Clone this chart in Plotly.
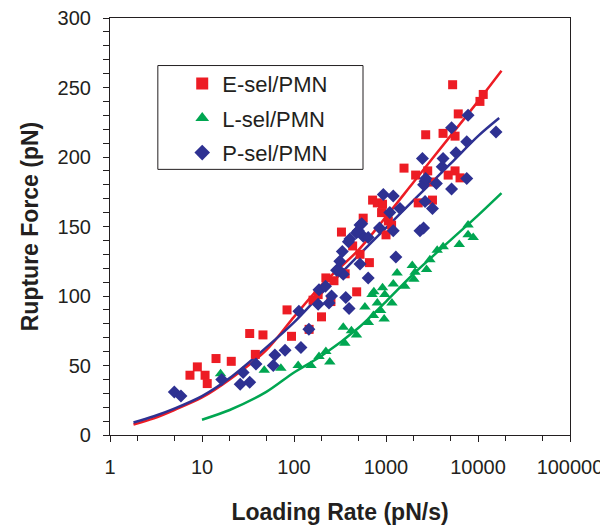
import plotly.graph_objects as go

# scatter data (loading rate pN/s, rupture force pN)
e_rate = [7.4, 8.9, 10.8, 11.4, 14.2, 20.8, 33, 46, 38, 84, 94, 146, 161, 183, 199, 222,
          272, 252, 328, 360, 434, 480, 522, 565, 660, 715, 805, 917, 895, 1000, 1060,
          1150, 1570, 2100, 2240, 2700, 2840, 3200, 3250, 4170, 4740, 5300, 5630, 5630,
          6100, 6380, 10500, 11400]
e_force = [43, 49, 43, 37, 55, 53, 73, 72, 58, 90, 71, 76, 97, 101, 85, 113,
           111, 96, 146, 116, 136, 103, 130, 156, 124, 169, 167, 166, 160, 144, 154,
           151, 192, 187, 167, 216, 190, 169, 182, 217, 187, 252, 215, 190,
           231, 185, 240, 245]

l_rate = [15.9, 47.5, 72, 111, 153, 187, 222, 245, 343, 357, 421, 478, 590, 643, 705,
          738, 730, 805, 875, 917, 955, 970, 1160, 1200, 1320, 1600, 1930, 2010, 2070,
          2760, 3000, 3600, 4180, 6260, 7800, 7800, 8870]
l_force = [44, 46.5, 48, 50, 50, 56.5, 60, 52.5, 77.5, 66, 75, 72, 92, 81, 101,
           103, 86, 95, 89.5, 106, 83.5, 101, 95, 108.6, 116.5, 107, 122, 112, 117,
           119, 126, 133, 135.5, 137, 151, 144, 142]

p_rate = [5.0, 5.9, 16.4, 28, 26, 33, 38.6, 59.5, 62, 80, 119, 113, 145, 187, 220, 183,
          240, 256, 365, 397, 290, 343, 303, 315, 335, 390, 478, 522, 565, 522, 640, 405,
          500, 545, 640, 850, 935, 1100, 1200, 1200, 1280, 1420, 2340, 2560, 2490, 2660,
          2660, 2560, 2700, 3200, 3530, 4080, 4170, 5160, 5160, 5770, 7550, 7550, 7800,
          15700]
p_force = [31, 28, 40, 45, 36.5, 38, 51, 50, 57.5, 61, 63, 89, 76, 104.5, 107, 94,
           95, 100, 99, 91, 118.6, 115.7, 119, 125, 132, 139, 145.5, 151, 143, 123, 113, 141,
           147, 152, 142, 149, 173, 160, 172, 147, 128, 163, 147, 149, 199, 182.5,
           168, 180, 184.5, 163, 181, 193, 199, 221, 177, 203, 211, 184.5, 230,
           218]

e_fit_rate = [1.8, 3, 5, 10, 20, 50, 100, 200, 500, 1000, 2000, 5000, 10000, 18000]
e_fit_force = [7.5, 12, 18, 27, 40, 61, 85, 108, 133, 157, 182, 215, 240, 262]
l_fit_rate = [10, 20, 50, 100, 200, 500, 1000, 2000, 5000, 10000, 18000]
l_fit_force = [11, 18, 31, 45, 57, 77, 96, 116, 140, 158, 174]
p_fit_rate = [1.8, 3, 5, 10, 20, 50, 100, 200, 500, 1000, 2000, 5000, 10000, 17000]
p_fit_force = [9, 13.5, 19, 28, 41, 63, 81, 102, 129, 149, 169, 195, 215, 228]

x_ticks = [1, 10, 100, 1000, 10000, 100000]

RED = "#ED1C24"
GREEN = "#00A651"
BLUE = "#2E3192"
INK = "#231F20"
FONT = "Liberation Sans, Arial, sans-serif"

fig = go.Figure()

for rx, fy, col in [(e_fit_rate, e_fit_force, RED), (l_fit_rate, l_fit_force, GREEN),
                    (p_fit_rate, p_fit_force, BLUE)]:
    fig.add_trace(go.Scatter(x=rx, y=fy, mode="lines", showlegend=False, hoverinfo="skip",
                             line=dict(color=col, width=2.5, shape="spline", smoothing=0.8)))

fig.add_trace(go.Scatter(x=e_rate, y=e_force, mode="markers", name="E-sel/PMN", legendgroup="e",
                         marker=dict(symbol="square", size=9, color=RED)))
fig.add_trace(go.Scatter(x=l_rate, y=l_force, mode="markers", name="L-sel/PMN", legendgroup="l",
                         marker=dict(symbol="triangle-up", size=10, color=GREEN)))
fig.add_trace(go.Scatter(x=p_rate, y=p_force, mode="markers", name="P-sel/PMN", legendgroup="p",
                         marker=dict(symbol="diamond", size=10, color=BLUE)))

# legend frame
fig.add_shape(type="rect", xref="paper", yref="paper", x0=0.104, x1=0.55, y0=0.637, y1=0.886,
              line=dict(color=INK, width=1), fillcolor="white", layer="below")

# page body adds an 8px offset, so the figure is 8px smaller than the window
fig.update_layout(
    width=600, height=521,
    margin=dict(l=102, r=38, t=10, b=94),
    paper_bgcolor="white", plot_bgcolor="white",
    font=dict(family=FONT, color=INK, size=20),
    legend=dict(x=0.157, y=0.893, xanchor="left", yanchor="top", bgcolor="rgba(0,0,0,0)",
                font=dict(size=22), tracegroupgap=3, itemsizing="constant"),
)

fig.update_xaxes(type="log", range=[0, 5], tickvals=x_ticks, ticktext=[str(v) for v in x_ticks],
                 showline=True, linecolor=INK, linewidth=1.2, mirror=True, showgrid=False,
                 zeroline=False, ticks="outside", ticklen=6, tickcolor=INK, ticklabelstandoff=8,
                 automargin=False, ticklabeloverflow="allow",
                 minor=dict(ticks="outside", ticklen=5, tickcolor=INK, showgrid=False),
                 title=dict(text="<b>Loading Rate (pN/s)</b>", font=dict(size=23), standoff=26))
fig.update_yaxes(range=[0, 300], dtick=50, showline=True, linecolor=INK, linewidth=1.2,
                 mirror=True, showgrid=False, zeroline=False, ticks="outside", ticklen=6,
                 tickcolor=INK, ticklabelstandoff=8, automargin=False, ticklabeloverflow="allow",
                 minor=dict(dtick=10, ticks="outside", ticklen=6, tickcolor=INK, showgrid=False),
                 title=dict(text="<b>Rupture Force (pN)</b>", font=dict(size=23), standoff=12))

fig.write_html("out.html")
